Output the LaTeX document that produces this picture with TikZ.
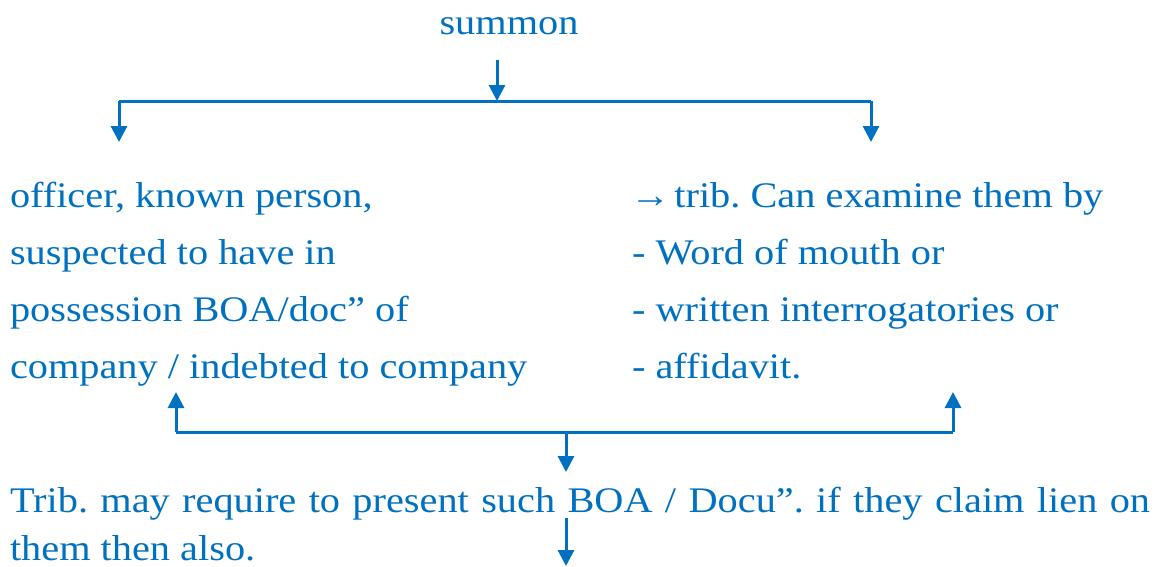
\documentclass[tikz,border=0pt]{standalone}
\usepackage{fontspec}
\setmainfont[FakeStretch=1.12]{Liberation Serif}
\usetikzlibrary{arrows.meta}
\definecolor{inkblue}{RGB}{0,112,192}
\begin{document}
\frenchspacing
\begin{tikzpicture}[x=1pt,y=-1pt,
  every node/.style={inner sep=0pt,outer sep=0pt,text=inkblue,anchor=base west,
    font=\fontsize{36}{42}\selectfont},
  link/.style={draw=inkblue,line width=3pt},
  arr/.style={link,-{Triangle[length=16pt,width=16pt]}}]
\useasboundingbox (0,0) rectangle (1165,566);

% heading
\node[anchor=base] (summon) at (509,34) {summon};

% left column
\node (l1) at (10,207) {officer, known person,};
\node (l2) at (10,264) {suspected to have in};
\node (l3) at (10,321) {possession BOA/doc” of};
\node (l4) at (10,378) {company / indebted to company};

% right column
\node (r1) at (630,207) {→\kern-6pt{} trib. Can examine them by};
\node (r2) at (632,264) {- Word of mouth or};
\node (r3) at (632,321) {- written interrogatories or};
\node (r4) at (632,378) {- affidavit.};

% closing statement
\node (b1) at (10,512) {\makebox[1140pt][s]{Trib. may require to present such BOA / Docu”. if they claim lien on}};
\node (b2) at (10,560) {them then also.};

% junction points of the brackets
\coordinate (sOut) at (497,60);
\coordinate (topBar) at (497,101);
\coordinate (topL) at (119,101);
\coordinate (topR) at (871,101);
\coordinate (inL) at (119,142);
\coordinate (inR) at (871,142);
\coordinate (upL) at (176,392);
\coordinate (upR) at (953,392);
\coordinate (botL) at (176,432);
\coordinate (botR) at (953,432);
\coordinate (botM) at (566,432);
\coordinate (toB) at (566,472);
\coordinate (fromB) at (566,518);
\coordinate (outB) at (566,566);

\draw[arr] (sOut) -- (topBar);
\draw[link] (topL) -- (topR);
\draw[arr] (topL) -- (inL);
\draw[arr] (topR) -- (inR);

\draw[arr] (botL) -- (upL);
\draw[arr] (botR) -- (upR);
\draw[link] (botL) -- (botR);
\draw[arr] (botM) -- (toB);
\draw[arr] (fromB) -- (outB);
\end{tikzpicture}
\end{document}
